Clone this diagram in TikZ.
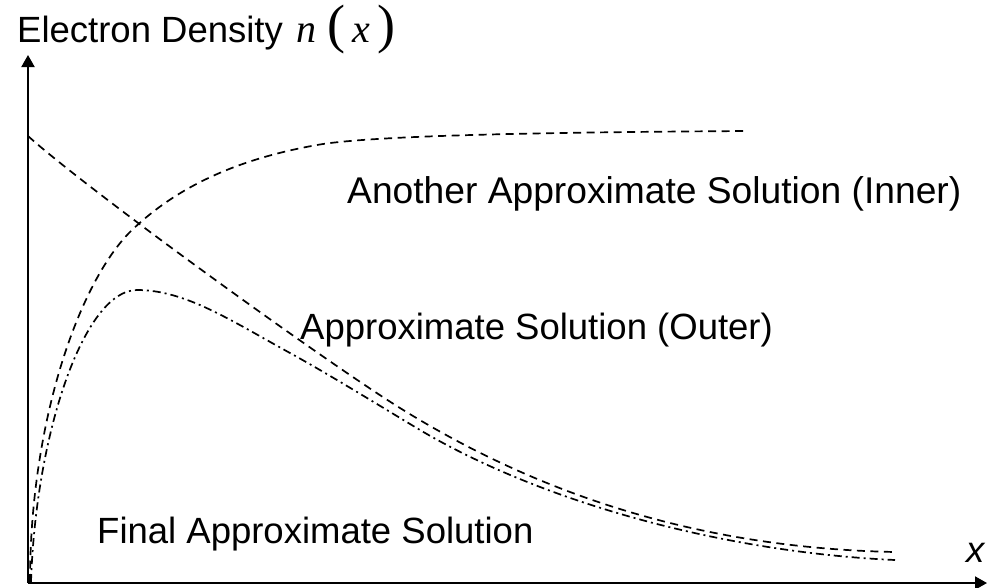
\documentclass[tikz,border=0pt]{standalone}
\usepackage{fontspec}
\setmainfont{Liberation Sans}
\newfontfamily\tnr{Liberation Serif}
\usetikzlibrary{arrows.meta}

\begin{document}
\begin{tikzpicture}[x=1pt, y=-1pt,
        axis/.style={line width=2pt, -{Triangle[length=12pt, width=13pt]}},
        outerline/.style={line width=1.7pt, dash pattern=on 8pt off 5.5pt},
        finalline/.style={line width=1.7pt, dash pattern=on 8pt off 4pt on 2pt off 4pt},
        lbl/.style={anchor=base west, inner sep=0pt, font=\fontsize{36.5}{43}\selectfont}
    ]

        \useasboundingbox (0, 0) rectangle (987, 587);

        \coordinate (o) at (28, 583);
        \coordinate (ytip) at (28, 55);
        \coordinate (xtip) at (987, 583);

        \draw[axis] (o) -- (ytip);
        \draw[axis] (o) -- (xtip);

        \draw[outerline] (28, 136) .. controls (88, 190) and (320, 358) .. (400, 408)
            .. controls (540, 495) and (700, 548) .. (895, 552);

        \draw[outerline] (30, 582) .. controls (30, 420) and (80, 280) .. (132, 230)
            .. controls (177, 187) and (237, 159) .. (317, 145)
            .. controls (377, 134) and (600, 132) .. (748, 131);

        \draw[finalline] (31, 582) .. controls (36, 430) and (85, 290) .. (137, 290)
            .. controls (185, 290) and (230, 320) .. (290, 353)
            .. controls (330, 375) and (380, 406) .. (420, 430)
            .. controls (540, 501) and (720, 552) .. (895, 560);

        \node[lbl] (ylabel) at (17, 42)
            {Electron Density\hspace{14pt}{\tnr\fontsize{40}{40}\selectfont\itshape n}\hspace{11pt}{\tnr\fontsize{54}{54}\selectfont(}\hspace{7pt}{\tnr\fontsize{40}{40}\selectfont\itshape x}\hspace{7pt}{\tnr\fontsize{54}{54}\selectfont)}};
        \node[lbl] (xlabel) at (966, 562) {\itshape x};
        \node[lbl, font=\fontsize{37.2}{43}\selectfont] (inner) at (347, 203) {Another Approximate Solution (Inner)};
        \node[lbl] (outer) at (300, 339) {Approximate Solution (Outer)};
        \node[lbl] (final) at (97, 543) {Final Approximate Solution};
    \end{tikzpicture}
\end{document}
